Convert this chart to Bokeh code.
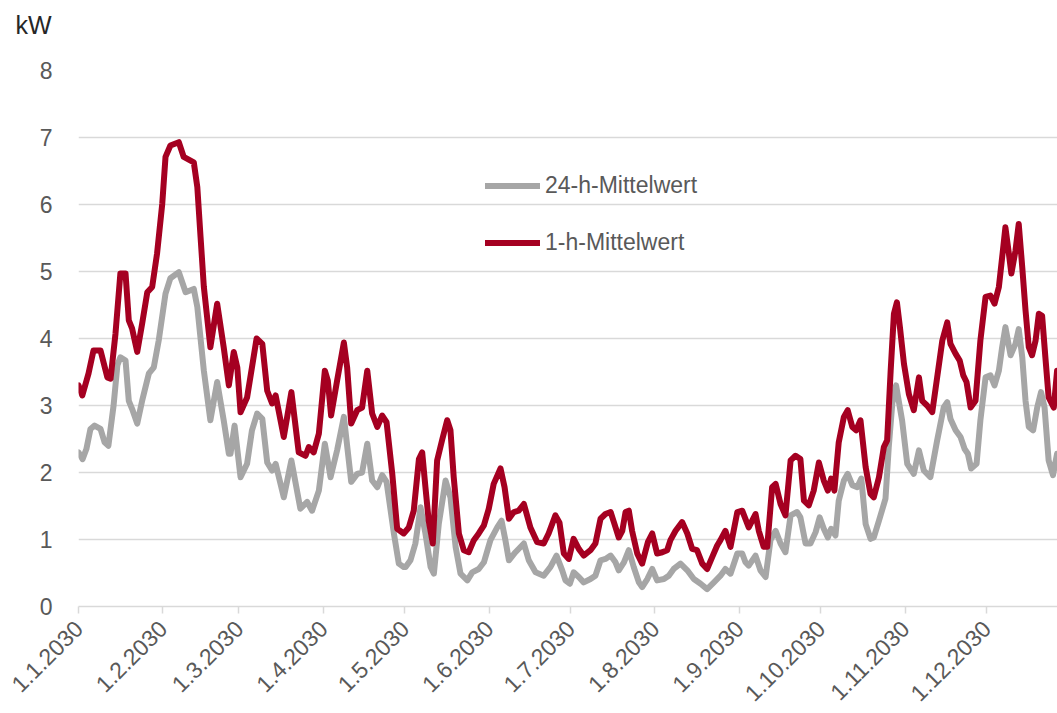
from bokeh.plotting import figure
from bokeh.models import Range1d, FixedTicker, Legend, LegendItem, Title
from bokeh.embed import file_html
from bokeh.resources import INLINE
import math

# Day-of-year positions (0 = 1.1.2030) and values in kW
red_days = [0, 1.4, 3.7, 5.5, 8.1, 10.6, 11.8, 13.6, 15.4, 17.3, 18.5, 19.7, 21.6, 23.4, 25.3, 27.1, 28.9, 30.8,
            32.0, 33.8, 36.9, 38.7, 42.4, 43.7, 44.9, 46.1, 48.5, 51.0, 53.4, 55.3, 57.1, 58.4, 59.6, 62.0, 63.8,
            65.5, 67.6, 69.4, 71.2, 72.5, 75.5, 78.3, 81.0, 83.5, 84.7, 86.5, 88.4, 90.6, 91.7, 92.9, 95.1, 97.6,
            98.8, 100.3, 102.5, 104.3, 106.2, 108.0, 109.9, 111.7, 113.3, 115.4, 117.2, 119.6, 121.5, 123.3,
            125.2, 126.4, 127.6, 128.8, 130.3, 131.9, 133.7, 135.6, 136.8, 138.0, 139.9, 141.7, 143.5, 145.4,
            147.2, 149.1, 150.9, 152.7, 155.2, 156.7, 158.3, 160.1, 161.9, 163.8, 166.2, 168.7, 171.1, 172.9,
            175.4, 176.9, 178.5, 180.3, 182.1, 184.0, 185.8, 188.3, 190.1, 192.0, 193.8, 195.7, 196.9, 198.7,
            200.0, 201.2, 202.4, 203.6, 205.5, 207.3, 209.4, 211.0, 212.8, 214.7, 216.5, 217.7, 219.6, 222.0,
            223.9, 225.7, 227.5, 229.4, 231.2, 233.1, 234.9, 236.1, 237.9, 239.8, 242.3, 244.1, 246.5, 249.0,
            250.2, 252.0, 253.3, 255.1, 256.4, 258.2, 260.0, 261.9, 263.7, 265.5, 266.8, 268.6, 270.4, 272.3,
            274.1, 275.6, 276.8, 278.0, 279.6, 281.5, 282.9, 284.6, 286.0, 287.6, 289.5, 291.3, 292.5, 294.4,
            296.2, 297.4, 298.7, 299.9, 301.0, 302.1, 303.6, 305.4, 307.2, 309.1, 310.3, 312.1, 314.0, 315.8,
            317.7, 319.5, 320.7, 322.6, 324.1, 325.4, 326.6, 328.1, 329.9, 331.7, 333.6, 335.4, 336.9, 338.5,
            339.7, 340.9, 342.2, 343.1, 344.6, 345.8, 347.1, 348.3, 349.5, 350.7, 352.0, 353.2, 354.4, 355.6,
            356.8, 358.7, 359.9]
red_vals = [3.30, 3.15, 3.48, 3.82, 3.82, 3.42, 3.40, 4.07, 4.97, 4.97, 4.27, 4.15, 3.80, 4.22, 4.69, 4.77, 5.27, 6.01,
            6.71, 6.88, 6.93, 6.71, 6.63, 6.26, 5.51, 4.77, 3.87, 4.52, 3.87, 3.30, 3.80, 3.57, 2.90, 3.12, 3.57,
            4.00, 3.92, 3.22, 3.03, 3.15, 2.53, 3.20, 2.30, 2.25, 2.38, 2.30, 2.58, 3.52, 3.37, 2.85, 3.37, 3.94,
            3.57, 2.73, 2.93, 2.97, 3.52, 2.88, 2.68, 2.85, 2.75, 1.98, 1.16, 1.09, 1.18, 1.43,
            2.20, 2.30, 1.78, 1.28, 0.94, 2.18, 2.48, 2.78, 2.63, 1.93, 1.09, 0.84, 0.81, 0.99,
            1.09, 1.21, 1.46, 1.83, 2.06, 1.78, 1.31, 1.41, 1.43, 1.53, 1.18, 0.96, 0.94, 1.09,
            1.36, 1.25, 0.79, 0.71, 1.01, 0.86, 0.76, 0.84, 0.94, 1.31, 1.38, 1.41, 1.26, 1.03,
            1.13, 1.41, 1.43, 1.13, 0.79, 0.64, 0.96, 1.09, 0.79, 0.81, 0.84, 0.99, 1.13, 1.26,
            1.09, 0.86, 0.84, 0.64, 0.56, 0.74, 0.91, 0.99, 1.13, 0.89, 1.41, 1.43, 1.18, 1.38,
            1.13, 0.89, 0.89, 1.78, 1.83, 1.53, 1.36, 2.18, 2.25, 2.20, 1.58, 1.51, 1.73, 2.15,
            1.88, 1.73, 1.91, 1.73, 2.45, 2.83, 2.93, 2.68, 2.63, 2.78, 2.08, 1.68, 1.63, 1.93,
            2.38, 2.48, 3.52, 4.37, 4.54, 4.17, 3.62, 3.17, 2.93, 3.42, 3.07, 3.00, 2.90, 3.42,
            3.97, 4.24, 3.92, 3.77, 3.67, 3.45, 3.35, 2.97, 3.07, 3.97, 4.62, 4.64, 4.52, 4.77,
            5.21, 5.66, 5.26, 4.97, 5.31, 5.71, 5.06, 4.42, 3.87, 3.75, 3.97, 4.37, 4.34, 3.72,
            3.12, 2.97, 3.52]

gray_days = [0, 1.5, 2.9, 4.4, 5.9, 8.1, 9.6, 11.0, 12.9, 14.3, 15.4, 17.3, 18.5, 19.7, 21.6, 23.4, 25.9, 27.7, 29.5,
             32.0, 33.8, 36.9, 39.4, 42.4, 43.7, 46.1, 48.5, 51.0, 53.4, 55.3, 55.9, 57.4, 59.6, 62.0, 63.8, 65.7,
             67.6, 69.4, 71.2, 72.5, 75.5, 78.3, 81.6, 84.1, 85.9, 88.4, 90.6, 92.7, 95.1, 97.6, 100.3, 102.5,
             104.3, 106.2, 108.0, 109.9, 111.7, 113.3, 116.0, 117.8, 119.6, 120.3, 122.1, 123.9, 125.8, 127.6,
             129.5, 130.7, 132.5, 135.0, 136.8, 138.7, 140.5, 143.0, 144.8, 147.2, 149.1, 151.5, 154.0, 155.6,
             157.0, 158.3, 160.7, 163.8, 165.6, 168.1, 171.1, 173.6, 175.8, 177.9, 179.1, 180.7, 182.1, 184.0,
             185.8, 188.3, 190.1, 192.0, 193.8, 195.7, 197.5, 198.7, 200.6, 202.4, 204.2, 206.1, 207.3, 209.2,
             211.0, 212.8, 215.3, 217.1, 218.9, 221.4, 223.9, 226.3, 228.8, 231.2, 233.7, 236.1, 237.9, 239.8,
             242.3, 244.1, 245.3, 246.5, 249.0, 250.8, 252.7, 254.5, 256.4, 258.2, 260.0, 261.9, 264.3, 265.5,
             267.4, 269.2, 271.1, 272.6, 274.1, 275.6, 276.8, 278.4, 279.6, 281.5, 282.9, 284.6, 286.4, 287.9,
             289.5, 291.3, 292.5, 294.4, 296.8, 298.0, 299.3, 300.7, 302.9, 304.8, 307.2, 309.1, 310.9, 313.3,
             315.8, 318.2, 319.5, 320.7, 322.6, 324.4, 325.9, 327.1, 328.3, 330.3, 331.7, 333.6, 335.4, 336.9,
             338.5, 339.7, 340.9, 342.8, 344.6, 345.8, 347.1, 348.3, 349.5, 351.1, 352.6, 354.0, 355.3, 356.8,
             358.4, 359.9]
gray_vals = [2.30, 2.20, 2.35, 2.65, 2.70, 2.65, 2.45, 2.40, 3.00, 3.60, 3.72, 3.67, 3.07, 2.95, 2.73, 3.07, 3.48, 3.57, 3.97,
             4.67, 4.90, 4.99, 4.69, 4.74, 4.47, 3.52, 2.78, 3.35, 2.78, 2.28, 2.28, 2.70, 1.93, 2.13, 2.63, 2.88,
             2.80, 2.15, 2.03, 2.13, 1.63, 2.18, 1.46, 1.56, 1.43, 1.73, 2.43, 1.93, 2.33, 2.83, 1.86, 1.98,
             2.00, 2.43, 1.88, 1.78, 1.96, 1.86, 1.09, 0.64, 0.59, 0.59, 0.69, 0.94, 1.48, 1.09,
             0.59, 0.49, 1.23, 1.88, 1.63, 0.89, 0.49, 0.39, 0.51, 0.56, 0.66, 0.99, 1.18, 1.28,
             0.99, 0.69, 0.81, 0.94, 0.69, 0.51, 0.46, 0.59, 0.76, 0.54, 0.39, 0.34, 0.51, 0.44,
             0.36, 0.41, 0.46, 0.69, 0.71, 0.76, 0.66, 0.54, 0.66, 0.84, 0.59, 0.36, 0.29, 0.41,
             0.56, 0.39, 0.41, 0.46, 0.56, 0.64, 0.54, 0.41, 0.34, 0.26, 0.36, 0.46, 0.56, 0.49,
             0.79, 0.79, 0.66, 0.61, 0.76, 0.54, 0.44, 0.99, 1.13, 0.94, 0.81, 1.36, 1.41, 1.33,
             0.94, 0.94, 1.11, 1.33, 1.16, 1.03, 1.16, 1.06, 1.58, 1.88, 1.98, 1.81, 1.78, 1.91,
             1.23, 1.01, 1.03, 1.28, 1.61, 2.38, 3.03, 3.30, 2.78, 2.13, 1.98, 2.33, 2.03, 1.93,
             2.48, 2.97, 3.05, 2.80, 2.63, 2.53, 2.35, 2.28, 2.06, 2.13, 2.78, 3.42, 3.45, 3.30,
             3.52, 3.87, 4.17, 3.75, 3.92, 4.14, 3.72, 3.07, 2.68, 2.63, 2.97, 3.20, 2.97, 2.18,
             1.96, 2.28]

month_starts = [0, 31, 59, 90, 120, 151, 181, 212, 243, 273, 304, 334]
month_labels = ["1.1.2030", "1.2.2030", "1.3.2030", "1.4.2030", "1.5.2030", "1.6.2030",
                "1.7.2030", "1.8.2030", "1.9.2030", "1.10.2030", "1.11.2030", "1.12.2030"]
y_ticks = [0, 1, 2, 3, 4, 5, 6, 7, 8]

FONT = "Liberation Sans"
TXT = "#595959"
GRID = "#D9D9D9"
RED = "#A50021"
GRAY = "#A6A6A6"

W, H = 1057, 713
LEFT, TOP, BOTTOM = 78, 70, 107
px_per_day = 2.719
frame_w = W - LEFT

p = figure(width=W, height=H, output_backend="svg", toolbar_location=None,
           x_range=Range1d(0, frame_w / px_per_day), y_range=Range1d(0, 8),
           min_border_left=LEFT, min_border_right=0, min_border_top=TOP, min_border_bottom=BOTTOM)
p.title = None
p.outline_line_color = None
p.background_fill_color = "white"
p.border_fill_color = "white"

# spacer title (nearest the frame), then the unit label above it
p.add_layout(Title(text=" ", standoff=4, text_font=FONT, text_font_size="23px", text_color="white"), "above")
p.add_layout(Title(text="kW", align="left", offset=15 - LEFT, standoff=0,
                   text_font=FONT, text_font_size="25px", text_font_style="normal", text_color="#262626"), "above")

p.xgrid.grid_line_color = None
p.ygrid.grid_line_color = GRID
p.ygrid.grid_line_width = 1.5
p.ygrid.ticker = FixedTicker(ticks=y_ticks)

xa = p.xaxis[0]
xa.ticker = FixedTicker(ticks=month_starts)
xa.major_label_overrides = {d: lab for d, lab in zip(month_starts, month_labels)}
xa.major_label_orientation = math.pi / 4
xa.major_label_text_font = FONT
xa.major_label_text_font_size = "23px"
xa.major_label_text_color = TXT
xa.axis_line_color = GRID
xa.axis_line_width = 1.5
xa.major_tick_line_color = GRID
xa.major_tick_line_width = 1.5
xa.major_tick_out = 7
xa.major_tick_in = 0
xa.minor_tick_line_color = None
xa.major_label_standoff = 11

ya = p.yaxis[0]
ya.ticker = FixedTicker(ticks=y_ticks)
ya.axis_line_color = None
ya.major_tick_line_color = None
ya.minor_tick_line_color = None
ya.major_label_text_font = FONT
ya.major_label_text_font_size = "23px"
ya.major_label_text_color = TXT
ya.major_label_standoff = 20

r_gray = p.line(gray_days, gray_vals, line_color=GRAY, line_width=6, line_join="round", line_cap="round")
r_red = p.line(red_days, red_vals, line_color=RED, line_width=6, line_join="round", line_cap="round")

legend = Legend(items=[LegendItem(label="24-h-Mittelwert", renderers=[r_gray]),
                       LegendItem(label="1-h-Mittelwert", renderers=[r_red])],
                location=(407, 350), orientation="vertical",
                glyph_width=55, glyph_height=25, label_height=25, spacing=30, padding=0, margin=0,
                label_standoff=5, border_line_color=None, background_fill_alpha=0,
                label_text_font=FONT, label_text_font_size="23px", label_text_color=TXT)
p.add_layout(legend)

open("out.html", "w").write(file_html(p, INLINE))
